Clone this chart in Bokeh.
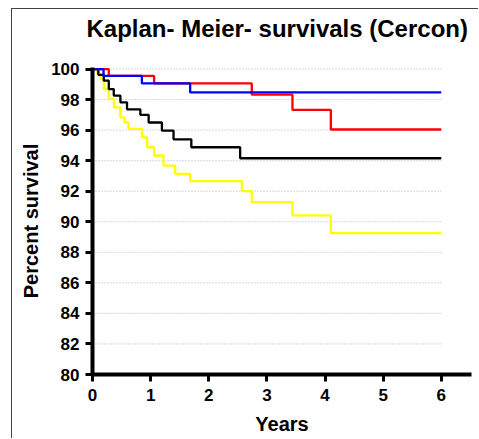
from bokeh.plotting import figure
from bokeh.models import Range1d, FixedTicker, Title
from bokeh.embed import file_html
from bokeh.resources import INLINE

# ---- data ----
years_black = [0, 0.10, 0.194, 0.28, 0.366, 0.48, 0.594, 0.823, 0.966, 1.194, 1.394, 1.70, 2.54, 6.0]
surv_black = [100, 99.62, 99.24, 98.69, 98.26, 97.82, 97.36, 97.0, 96.5, 95.97, 95.4, 94.88, 94.16, 94.16]

years_yellow = [0, 0.08, 0.137, 0.194, 0.28, 0.37, 0.48, 0.55, 0.62, 0.851, 0.94, 1.06, 1.22, 1.423,
                1.68, 2.57, 2.74, 3.44, 4.10, 6.0]
surv_yellow = [100, 99.7, 99.35, 98.69, 98.04, 97.49, 96.84, 96.5, 96.08, 95.53, 94.88, 94.34, 93.68,
               93.14, 92.66, 92.0, 91.29, 90.42, 89.26, 89.26]

years_red = [0, 0.28, 1.06, 2.74, 3.44, 4.10, 6.0]
surv_red = [100, 99.55, 99.06, 98.32, 97.32, 96.04, 96.04]

years_blue = [0, 0.19, 0.85, 1.68, 6.0]
surv_blue = [100, 99.55, 99.06, 98.47, 98.47]

y_ticks = [80, 82, 84, 86, 88, 90, 92, 94, 96, 98, 100]
x_ticks = [0, 1, 2, 3, 4, 5, 6]

title_text = "Kaplan- Meier- survivals (Cercon)"
x_label = "Years"
y_label = "Percent survival"

FONT = "Liberation Sans"

p = figure(width=467, height=430, output_backend="svg", toolbar_location=None,
           x_range=Range1d(0, 6.52), y_range=Range1d(80, 100.1),
           min_border_left=80, min_border_right=8, min_border_top=58, min_border_bottom=65,
           background_fill_color="white", border_fill_color="white")
p.margin = (8, 0, 0, 11)
p.styles = {"border-left": "1px solid #444", "border-top": "1px solid #444"}
p.outline_line_color = None
p.xgrid.visible = False
p.ygrid.visible = False

# blank spacer between the frame and the title
spacer = Title(text=" ", text_font_size="1px", standoff=21)
p.add_layout(spacer, "above")

t = Title(text=title_text, align="left", vertical_align="top", text_font=FONT,
          text_font_size="24px", text_font_style="bold", text_color="black",
          standoff=0, offset=-6)
p.add_layout(t, "above")

# dotted horizontal grid lines drawn through the data scales
x_end = max(years_black)
grid_vals = [v for v in y_ticks if v > y_ticks[0]]
p.segment(x0=[0] * len(grid_vals), x1=[x_end] * len(grid_vals), y0=grid_vals, y1=grid_vals,
          line_color="#b0b0b0", line_width=1, line_dash="1 2")

# curves
p.step(years_yellow, surv_yellow, mode="after", line_color="#ffff00", line_width=2.3)
p.step(years_black, surv_black, mode="after", line_color="black", line_width=2.3)
p.step(years_red, surv_red, mode="after", line_color="#ff0000", line_width=2.3)
p.step(years_blue, surv_blue, mode="after", line_color="#0000ff", line_width=2.3)

for ax in (p.xaxis[0], p.yaxis[0]):
    ax.axis_line_width = 4
    ax.axis_line_color = "black"
    ax.major_tick_line_width = 3
    ax.major_tick_line_color = "black"
    ax.major_tick_in = 0
    ax.major_tick_out = 7
    ax.minor_tick_line_color = None
    ax.major_label_text_font = FONT
    ax.major_label_text_font_size = "17px"
    ax.major_label_text_font_style = "bold"
    ax.major_label_text_color = "black"
    ax.axis_label_text_font = FONT
    ax.axis_label_text_font_size = "20px"
    ax.axis_label_text_font_style = "bold"
    ax.axis_label_text_color = "black"

p.xaxis[0].ticker = FixedTicker(ticks=x_ticks)
p.yaxis[0].ticker = FixedTicker(ticks=y_ticks)
p.xaxis[0].axis_label = x_label
p.yaxis[0].axis_label = y_label
p.xaxis[0].major_label_standoff = 7
p.yaxis[0].major_label_standoff = 6
p.xaxis[0].axis_label_standoff = 9
p.yaxis[0].axis_label_standoff = 6

open("out.html", "w").write(file_html(p, INLINE))
